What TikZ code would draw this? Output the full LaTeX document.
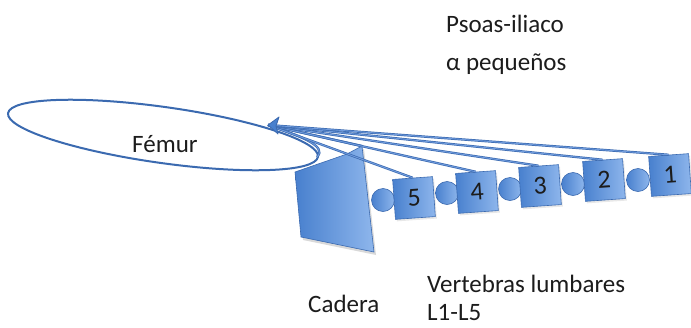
\documentclass[tikz,border=0pt]{standalone}
\usepackage{fontspec}
\setmainfont{Carlito}
\usetikzlibrary{shapes.geometric,shadows,arrows.meta}

\definecolor{edgeblue}{RGB}{59,106,176}
\definecolor{fillleft}{RGB}{72,128,206}
\definecolor{fillright}{RGB}{142,182,236}
\definecolor{musclelight}{RGB}{112,156,222}
\definecolor{inkgray}{RGB}{28,28,28}

\tikzset{
  labeltext/.style={anchor=base west, inner sep=0pt, text=inkgray,
    font=\fontsize{25}{30}\selectfont},
  bone/.style={draw=edgeblue, line width=2pt},
  vertebra/.style={rectangle, minimum size=40pt, inner sep=0pt, rotate=4,
    draw=edgeblue, line width=0.6pt, left color=fillleft, right color=fillright,
    text=inkgray, font=\fontsize{26}{30}\selectfont,
    drop shadow={opacity=0.18, shadow xshift=1.5pt, shadow yshift=-2pt}},
  disc/.style={circle, minimum size=23pt, inner sep=0pt, draw=edgeblue,
    line width=0.6pt, left color=fillleft, right color=fillright},
  muscle/.style={draw=edgeblue, line width=0.7pt, double=musclelight,
    double distance=0.9pt},
}

\begin{document}
\begin{tikzpicture}[x=1pt, y=-1pt]
  \useasboundingbox (0,0) rectangle (691,327);

  % femur outline and its label
  \node[ellipse, bone, minimum width=313pt, minimum height=56pt, rotate=-8,
        inner sep=0pt] (femur) at (163,135) {};
  \node[labeltext] (femurlabel) at (132,152) {Fémur};

  % insertion point on the femur
  \coordinate (ins) at (268,125);

  % hip bone (ilium)
  \coordinate (hipA) at (295,172);
  \coordinate (hipB) at (347,154);
  \coordinate (hipC) at (362,146);
  \coordinate (hipD) at (374,252);
  \coordinate (hipE) at (301,237);
  \fill[black, opacity=0.15] ([shift={(2,3)}]hipA) -- ([shift={(2,3)}]hipB)
     -- ([shift={(2,3)}]hipC) -- ([shift={(2,3)}]hipD) -- ([shift={(2,3)}]hipE) -- cycle;
  \path[draw=edgeblue, line width=0.6pt, left color=fillleft, right color=fillright]
     (hipA) -- (hipB) -- (hipC) -- (hipD) -- (hipE) -- cycle;

  % intervertebral discs
  \node[disc] (d5) at (383,200) {};
  \node[disc] (d4) at (447,193) {};
  \node[disc] (d3) at (510,189) {};
  \node[disc] (d2) at (573,184) {};
  \node[disc] (d1) at (638,180) {};

  % lumbar vertebrae L5 ... L1
  \node[vertebra] (v5) at (414,198) {5};
  \node[vertebra] (v4) at (477,192) {4};
  \node[vertebra] (v3) at (540,186) {3};
  \node[vertebra] (v2) at (604,180) {2};
  \node[vertebra] (v1) at (670,175) {1};

  % psoas-iliacus fibres
  \draw[muscle] (ins) .. controls (300,136) and (328,146) .. (317,157);
  \draw[muscle] (ins) -- (hipC);
  \draw[muscle] (ins) -- (v5.north);
  \draw[muscle] (ins) -- (v4.north);
  \draw[muscle] (ins) -- (v3.north);
  \draw[muscle] (ins) -- (v2.north);
  \draw[muscle] (ins) -- (v1.north);

  % tendon tip at the lesser trochanter
  \filldraw[draw=edgeblue, fill=fillleft, line width=0.8pt, line join=round]
     (ins) -- (279,117) -- (276,126) -- (278,134) -- cycle;

  % labels
  \node[labeltext] (psoas) at (446,32) {Psoas-iliaco};
  \node[labeltext] (alpha) at (446,70) {α pequeños};
  \node[labeltext] (cadera) at (308,312) {Cadera};
  \node[labeltext] (lumb) at (427,292) {Vertebras lumbares};
  \node[labeltext] (lrange) at (427,320) {L1-L5};
\end{tikzpicture}
\end{document}
